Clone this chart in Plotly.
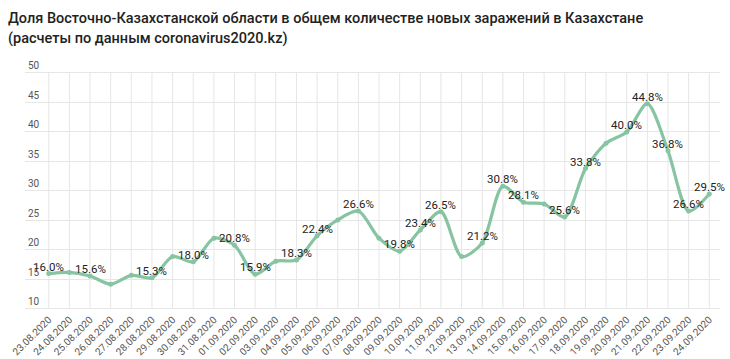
import plotly.graph_objects as go

dates = ["23.08.2020", "24.08.2020", "25.08.2020", "26.08.2020", "27.08.2020",
         "28.08.2020", "29.08.2020", "30.08.2020", "31.08.2020", "01.09.2020",
         "02.09.2020", "03.09.2020", "04.09.2020", "05.09.2020", "06.09.2020",
         "07.09.2020", "08.09.2020", "09.09.2020", "10.09.2020", "11.09.2020",
         "12.09.2020", "13.09.2020", "14.09.2020", "15.09.2020", "16.09.2020",
         "17.09.2020", "18.09.2020", "19.09.2020", "20.09.2020", "21.09.2020",
         "22.09.2020", "23.09.2020", "24.09.2020"]

share = [16.0, 16.2, 15.6, 14.2, 15.7, 15.3, 18.9, 18.0, 22.0, 20.8,
         15.9, 18.1, 18.3, 22.4, 25.1, 26.6, 22.0, 19.8, 23.4, 26.5,
         18.9, 21.2, 30.8, 28.1, 27.8, 25.6, 33.8, 38.1, 40.0, 44.8,
         36.8, 26.6, 29.5]

labeled = [True, False, True, False, False, True, False, True, False, True,
           True, False, True, True, False, True, False, True, True, True,
           False, True, True, True, False, True, True, False, True, True,
           True, True, True]

y_ticks = [10, 15, 20, 25, 30, 35, 40, 45, 50]

title_lines = ["Доля Восточно-Казахстанской области в общем количестве новых заражений в Казахстане",
               "(расчеты по данным coronavirus2020.kz)"]

green = "#86c4a2"
grid = "#e6e6e6"

fig = go.Figure()
fig.add_trace(go.Scatter(
    x=dates, y=share,
    mode="lines+markers",
    line=dict(color=green, width=3.2, shape="spline", smoothing=0.8),
    marker=dict(color=green, size=5),
    cliponaxis=False,
    hoverinfo="skip",
))

# data labels
for d, v, show in zip(dates, share, labeled):
    if show:
        fig.add_annotation(x=d, y=v, text=f"{v:.1f}%", showarrow=False,
                           xanchor="center", yanchor="middle", yshift=7,
                           font=dict(family="Roboto", size=11.5, color="#222222"))

# vertical grid lines between the 10 and 50 levels
for d in dates:
    fig.add_shape(type="line", xref="x", yref="y", x0=d, x1=d,
                  y0=y_ticks[0], y1=y_ticks[-1],
                  line=dict(color=grid, width=1), layer="below")

# title lines
for i, line in enumerate(title_lines):
    fig.add_annotation(xref="paper", yref="paper", x=-19 / 695, y=1,
                       yshift=58 - 18 - i * 20, xanchor="left", yanchor="middle",
                       showarrow=False, text=line,
                       font=dict(family="Roboto", size=14.5, color="#222222", weight=500))

fig.update_layout(
    width=730, height=359,
    margin=dict(l=25, r=10, t=58, b=48, autoexpand=False),
    paper_bgcolor="white", plot_bgcolor="white",
    showlegend=False,
    font=dict(family="Roboto"),
)

fig.update_xaxes(
    type="category",
    range=[-1.15, 32.52],
    showgrid=False,
    showline=False, zeroline=False,
    ticks="",
    tickangle=-45,
    tickfont=dict(family="Roboto", size=10, color="#555555"),
    automargin=False,
)

fig.update_yaxes(
    range=[9.66, 52.54],
    tickvals=y_ticks,
    showgrid=True, gridcolor=grid, gridwidth=1,
    zeroline=False, showline=False,
    ticklabelposition="inside top",
    tickfont=dict(family="Roboto", size=10, color="#555555"),
    automargin=False,
)

fig.write_html("out.html", config={"displayModeBar": False},
               post_script="document.body.style.margin='0px';")
